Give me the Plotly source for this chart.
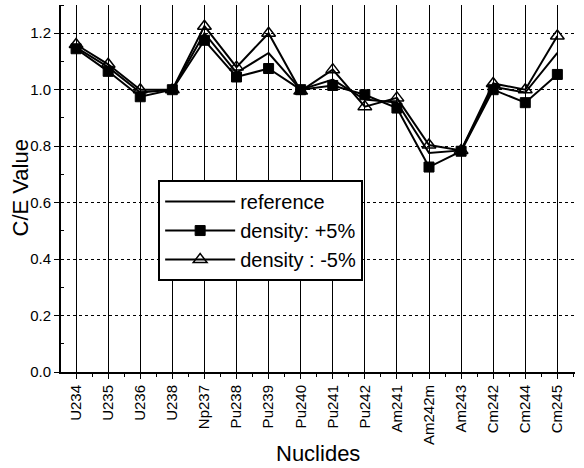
import plotly.graph_objects as go

nuclides = ["U234", "U235", "U236", "U238", "Np237", "Pu238", "Pu239", "Pu240",
            "Pu241", "Pu242", "Am241", "Am242m", "Am243", "Cm242", "Cm244", "Cm245"]
reference = [1.150, 1.080, 0.990, 1.000, 1.200, 1.060, 1.130, 1.000,
             1.036, 0.965, 0.955, 0.776, 0.785, 1.010, 0.990, 1.130]
density_plus5 = [1.145, 1.065, 0.975, 1.000, 1.175, 1.045, 1.075, 1.000,
                 1.015, 0.982, 0.935, 0.726, 0.782, 1.000, 0.954, 1.054]
density_minus5 = [1.160, 1.090, 1.000, 1.000, 1.225, 1.080, 1.200, 0.995,
                  1.071, 0.940, 0.971, 0.804, 0.785, 1.022, 1.000, 1.190]
yticks = [0.0, 0.2, 0.4, 0.6, 0.8, 1.0, 1.2]

x = list(range(len(nuclides)))
FONT = "Liberation Sans, Arial, Helvetica, sans-serif"

fig = go.Figure()
fig.add_trace(go.Scatter(x=x, y=reference, mode="lines", name="reference",
                         line=dict(color="black", width=2)))
fig.add_trace(go.Scatter(x=x, y=density_plus5, mode="lines+markers", name="density: +5%",
                         line=dict(color="black", width=2),
                         marker=dict(symbol="square", size=10, color="black",
                                     line=dict(color="black", width=1))))
fig.add_trace(go.Scatter(x=x, y=density_minus5, mode="lines+markers", name="density : -5%",
                         line=dict(color="black", width=2),
                         marker=dict(symbol="triangle-up-open", size=12, color="black",
                                     line=dict(color="black", width=1.5))))

fig.update_layout(
    width=584, height=468,
    margin=dict(l=61, r=9, t=5, b=96, pad=0, autoexpand=False),
    paper_bgcolor="white", plot_bgcolor="white",
    font=dict(family=FONT, color="black", size=16),
    showlegend=True,
    legend=dict(x=0.189, y=0.523, xanchor="left", yanchor="top",
                bgcolor="white", bordercolor="black", borderwidth=2,
                font=dict(size=20, family=FONT, color="black"),
                itemwidth=70, tracegroupgap=0),
    xaxis=dict(
        range=[-0.47, 15.55], tickmode="array", tickvals=x, ticktext=nuclides,
        tickangle=-90, tickfont=dict(size=15), ticks="outside", ticklen=5,
        tickcolor="black", showgrid=True, gridcolor="black", gridwidth=1,
        zeroline=False, showline=True, linecolor="black", linewidth=2,
        automargin=False,
        minor=dict(tickmode="linear", tick0=0.5, dtick=1, ticks="outside",
                   ticklen=3, tickcolor="black", showgrid=False),
    ),
    yaxis=dict(
        range=[0, 1.3], tickmode="array", tickvals=yticks,
        ticktext=[f"{v:.1f}" for v in yticks], tickfont=dict(size=15),
        ticks="outside", ticklen=5, tickcolor="black",
        showgrid=True, gridcolor="black", gridwidth=1, griddash="dot",
        zeroline=False, showline=True, linecolor="black", linewidth=2,
        automargin=False,
        minor=dict(tickmode="linear", tick0=0.1, dtick=0.2, ticks="inside",
                   ticklen=3, tickcolor="black", showgrid=False),
    ),
    annotations=[
        dict(text="C/E Value", textangle=-90, xref="paper", yref="paper",
             x=0, y=0.5, xanchor="center", yanchor="middle", xshift=-41,
             showarrow=False, font=dict(size=22, family=FONT, color="black")),
        dict(text="Nuclides", xref="paper", yref="paper",
             x=0.5, y=0, xanchor="center", yanchor="middle", yshift=-81,
             showarrow=False, font=dict(size=22, family=FONT, color="black")),
    ],
)

fig.write_html("out.html", config={"displayModeBar": False},
               post_script="document.body.style.margin='0';document.body.style.overflow='hidden';")
